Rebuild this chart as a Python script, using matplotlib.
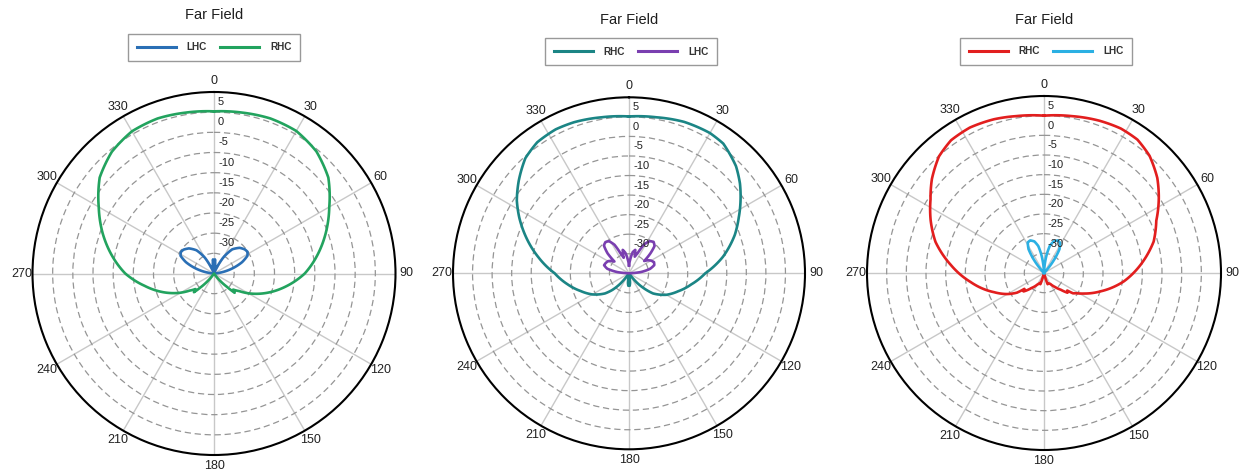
import numpy as np
import matplotlib
matplotlib.use("Agg")
import matplotlib.pyplot as plt
from matplotlib.transforms import offset_copy
from matplotlib.lines import Line2D

plt.rcParams['font.family'] = ['Liberation Sans', 'DejaVu Sans']

# ---------------- data (angle in degrees, gain in dB) ----------------
# Panel 1
p1_rhc_ang = [0, 10, 20, 30, 40, 50, 57, 60, 70, 80, 90, 100, 110, 120, 125, 130, 133, 136, 140, 145,
              180, 215, 220, 224, 227, 230, 235, 240, 250, 260, 270, 280, 290, 300, 303, 310, 320, 330,
              340, 350, 360]
p1_rhc_db = [0.2, 0.5, 0.9, 0.8, -0.5, -3.0, -5.8, -7.0, -10.5, -14.0, -17.5, -21.8, -26.0, -30.2, -32.4,
             -33.8, -33.0, -35.5, -37.6, -40, -40, -40, -37.5, -35.3, -33.2, -34.0, -32.6, -30.5, -26.5,
             -22.5, -18.0, -14.3, -10.6, -7.0, -5.8, -3.0, -0.6, 0.7, 0.9, 0.5, 0.2]
p1_lhc_ang = [0, 4, 8, 13, 20, 25, 30, 37, 45, 52, 57, 62, 68, 75, 82, 87, 180, 273, 278, 285, 292,
              298, 303, 308, 315, 323, 330, 335, 340, 347, 352, 356, 360]
p1_lhc_db = [-39, -36.5, -38, -39.5, -40, -38.5, -35.5, -32.5, -31.0, -30.3, -30.1, -30.6, -32.5, -35.5,
             -38.5, -40, -40, -40, -38.5, -35.5, -32.5, -30.6, -30.2, -30.4, -31.2, -32.8, -35.5, -38.5,
             -40, -39.5, -38, -36.5, -39]

# Panel 2
p2_rhc_ang = [0, 10, 20, 30, 36, 45, 51, 57, 63, 70, 80, 90, 100, 110, 120, 130, 135, 140, 145, 170,
              174, 177, 180, 183, 186, 190, 215, 220, 225, 230, 240, 250, 260, 270, 280, 290, 297, 303,
              310, 318, 325, 333, 340, 350, 360]
p2_rhc_db = [0.1, 0.5, 1.2, 1.4, 1.0, -1.3, -3.5, -6.0, -8.5, -11.2, -15.6, -20.5, -23.8, -26.6, -29.0,
             -32.0, -34.5, -37.0, -40, -40, -37.5, -36.8, -38, -36.8, -37.5, -40, -40, -36.5, -34.0,
             -32.0, -29.2, -26.8, -24.0, -21.0, -16.5, -11.8, -8.5, -5.8, -3.2, -0.4, 0.9, 1.3, 1.1,
             0.5, 0.1]
p2_lhc_ang = [0, 5, 10, 15, 19, 23, 28, 33, 38, 43, 47, 51, 55, 60, 66, 72, 78, 84, 88, 180, 272, 276,
              282, 288, 294, 300, 305, 309, 313, 318, 323, 328, 333, 337, 341, 345, 350, 355, 360]
p2_lhc_db = [-38, -36.5, -34.5, -33.8, -35.5, -34.5, -31.5, -30.2, -29.8, -30.4, -32.5, -35.0, -34.2,
             -33.5, -33.0, -33.2, -34.5, -37, -40, -40, -40, -37, -34.3, -33.3, -33.5, -33.8, -34.5,
             -35.2, -32.5, -30.4, -30.0, -30.3, -31.8, -34.5, -35.8, -33.8, -34.7, -36.5, -38]

# Panel 3
p3_rhc_ang = [0, 10, 20, 28, 35, 42, 50, 57, 65, 74, 85, 96, 108, 117, 122, 125, 127, 130, 135, 142,
              150, 158, 162, 165, 170, 190, 195, 198, 202, 210, 220, 228, 231, 234, 240, 249, 263, 275,
              286, 295, 303, 310, 318, 325, 333, 342, 350, 360]
p3_rhc_db = [0.0, 0.5, 1.2, 1.6, 1.4, 0.1, -2.4, -5.2, -8.5, -11.0, -15.3, -19.6, -24.9, -28.5, -30.3,
             -31.0, -32.6, -32.2, -34.0, -35.5, -36.8, -37.2, -37.0, -39, -40, -40, -39, -37.0, -37.3,
             -36.6, -35.0, -33.0, -33.6, -31.5, -29.3, -26.4, -21.2, -16.2, -11.3, -8.2, -5.6, -2.8,
             -0.1, 1.2, 1.5, 1.1, 0.5, 0.0]
p3_lhc_ang = [0, 4, 8, 12, 17, 23, 28, 33, 37, 41, 45, 180, 315, 319, 323, 327, 332, 337, 343, 348,
              352, 356, 360]
p3_lhc_db = [-40, -38.5, -35.5, -33.0, -31.6, -31.0, -31.3, -32.8, -35.5, -38.5, -40, -40, -40, -38.5,
             -35.5, -32.8, -31.2, -31.0, -31.6, -33.0, -35.5, -38.5, -40]

ring_values = [-35, -30, -25, -20, -15, -10, -5, 0]
ring_labels = ['5', '0', '-5', '-10', '-15', '-20', '-25', '-30']
ring_label_values = [5, 0, -5, -10, -15, -20, -25, -30]
theta_ticks = list(range(0, 360, 30))
theta_labels = [str(t) for t in theta_ticks]

R_MIN, R_MAX = -40, 5

W, H = 1256, 474
fig = plt.figure(figsize=(W / 100, H / 100), dpi=100)

panels = [
    dict(c=(214, 273.5), R=181.5, title_y=15, leg_c=(214, 47),
         series=[("LHC", p1_lhc_ang, p1_lhc_db, "#2a6fb5"), ("RHC", p1_rhc_ang, p1_rhc_db, "#22a35e")]),
    dict(c=(629, 273.3), R=176, title_y=20, leg_c=(631, 51.5),
         series=[("RHC", p2_rhc_ang, p2_rhc_db, "#1b8585"), ("LHC", p2_lhc_ang, p2_lhc_db, "#7a3fb0")]),
    dict(c=(1044, 273), R=177, title_y=20, leg_c=(1046, 51),
         series=[("RHC", p3_rhc_ang, p3_rhc_db, "#e21e1e"), ("LHC", p3_lhc_ang, p3_lhc_db, "#2bb0e3")]),
]

for p in panels:
    cx, cy = p["c"]
    R = p["R"]
    ax = fig.add_axes([(cx - R) / W, (H - cy - R) / H, 2 * R / W, 2 * R / H], projection='polar')
    ax.set_theta_zero_location('N')
    ax.set_theta_direction(-1)
    ax.set_ylim(R_MIN, R_MAX)
    ax.set_yticks(ring_values)
    ax.set_yticklabels([])
    ax.set_thetagrids(theta_ticks, theta_labels, fontsize=9, color='#222222')
    ax.tick_params(axis='x', pad=-2.5)
    ax.xaxis.grid(True, color='#c8c8c8', linewidth=1.0, linestyle='-')
    ax.yaxis.grid(True, color='#959595', linewidth=0.9, linestyle=(0, (5, 3)))
    ax.spines['polar'].set_color('black')
    ax.spines['polar'].set_linewidth(1.5)
    ax.set_facecolor('white')

    lab_tr = offset_copy(ax.transData, fig=fig, x=4, y=-10, units='dots')
    for v, s in zip(ring_label_values, ring_labels):
        ax.text(0, v, s, transform=lab_tr, ha='left', va='center', fontsize=8, color='#222222')

    handles = []
    for name, ang, db, col in p["series"]:
        line, = ax.plot(np.deg2rad(ang), db, color=col, linewidth=1.9, solid_joinstyle='round')
        # let the polar transform bend each segment along the angle
        line.get_path()._interpolation_steps = 40
        handles.append(Line2D([], [], color=col, linewidth=2.2, label=name))

    fig.text(cx / W, 1 - p["title_y"] / H, "Far Field", ha='center', va='center', fontsize=10.5,
             color='#1e1e1e')
    lx, ly = p["leg_c"]
    leg = ax.legend(handles=handles, loc='center', bbox_to_anchor=(lx / W, 1 - ly / H),
                    bbox_transform=fig.transFigure, ncol=2, frameon=True,
                    fancybox=False, handlelength=3.9, handletextpad=1.1, columnspacing=1.3,
                    borderpad=0.85, prop=dict(weight='bold', size=7.2))
    leg.get_frame().set_edgecolor('#808080')
    leg.get_frame().set_linewidth(1.0)
    for t in leg.get_texts():
        t.set_color('#333333')

fig.savefig("out.png", dpi=100, facecolor='white')
